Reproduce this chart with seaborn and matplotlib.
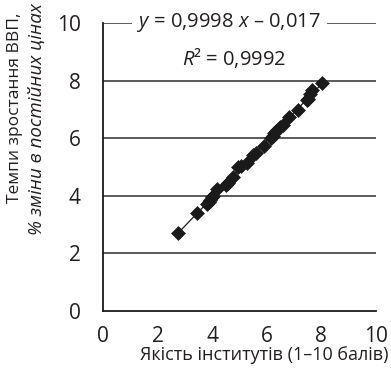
import matplotlib
matplotlib.use("Agg")
import matplotlib.pyplot as plt
import seaborn as sns
import pandas as pd

# Data
institutions = [2.76, 3.43, 3.80, 3.88, 3.92, 4.00, 4.04, 4.16, 4.50, 4.59, 4.77,
                4.96, 5.05, 5.26, 5.51, 5.60, 5.90, 6.15, 6.21, 6.28, 6.34, 6.48,
                6.60, 6.83, 7.15, 7.48, 7.52, 7.58, 7.64, 8.01]
growth = [2.71, 3.41, 3.70, 3.78, 3.84, 3.95, 4.01, 4.25, 4.39, 4.44, 4.67,
          4.99, 5.02, 5.13, 5.40, 5.48, 5.73, 6.02, 6.06, 6.18, 6.26, 6.40,
          6.47, 6.72, 6.98, 7.32, 7.36, 7.53, 7.67, 7.90]
x_ticks = [0, 2, 4, 6, 8, 10]
y_ticks = [0, 2, 4, 6, 8, 10]
eq_line1 = "$y$ = 0,9998 $x$ – 0,017"
eq_line2 = "$R$² = 0,9992"
x_label = "Якість інститутів (1–10 балів)"
y_label1 = "Темпи зростання ВВП,"
y_label2 = "% зміни в постійних цінах"

df = pd.DataFrame({"x": institutions, "y": growth})

sns.set_style("white")
plt.rcParams["font.family"] = ["Open Sans", "DejaVu Sans"]
plt.rcParams["mathtext.fontset"] = "custom"
plt.rcParams["mathtext.rm"] = "Open Sans"
plt.rcParams["mathtext.it"] = "Open Sans:italic"

text_color = "#231f20"
fig = plt.figure(figsize=(3.91, 3.75), dpi=100)
ax = fig.add_axes([103 / 391, 1 - 311 / 375, 273 / 391, 288 / 375])

for yt in y_ticks[1:]:
    ax.axhline(yt, color="#4d4d4d", lw=1.3, zorder=0)

sns.regplot(data=df, x="x", y="y", ax=ax, ci=None, marker="D",
            scatter_kws={"s": 50, "color": "#1a1a1a", "edgecolors": "#1a1a1a",
                         "linewidths": 0.5, "zorder": 3, "alpha": 1},
            line_kws={"color": "#1a1a1a", "lw": 0.9, "zorder": 2})

ax.set_xlim(0, 10)
ax.set_ylim(0, 10)
ax.set_xticks(x_ticks)
ax.set_yticks(y_ticks)
ax.set_xticklabels([str(v) for v in x_ticks])
ax.set_yticklabels([str(v) for v in y_ticks])
ax.set_xlabel("")
ax.set_ylabel("")
ax.grid(False)
for side in ["top", "right"]:
    ax.spines[side].set_visible(False)
for side in ["left", "bottom"]:
    ax.spines[side].set_color("#1a1a1a")
    ax.spines[side].set_linewidth(1.3)
ax.tick_params(axis="both", direction="out", length=6, width=1.3, color="#1a1a1a",
               labelsize=15, labelcolor=text_color, pad=4)
ax.tick_params(axis="y", pad=10)
ax.tick_params(axis="x", pad=5)

ax.text(4.62, 10, eq_line1, ha="center", va="center", fontsize=14.5, color=text_color,
        bbox=dict(facecolor="white", edgecolor="none", pad=4), zorder=5, clip_on=False)
ax.text(4.8, 8.8, eq_line2, ha="center", va="center", fontsize=14.5, color=text_color,
        zorder=5)

fig.text(388 / 391, 1 - 355 / 375, x_label, ha="right", va="center", fontsize=13,
         color=text_color)
fig.text(15 / 391, 1 - 108 / 375, y_label1, ha="center", va="center", rotation=90,
         fontsize=12.5, color=text_color)
fig.text(37 / 391, 1 - 119 / 375, y_label2, ha="center", va="center", rotation=90,
         fontsize=13.5, style="italic", color=text_color)

fig.savefig("out.png", dpi=100)
